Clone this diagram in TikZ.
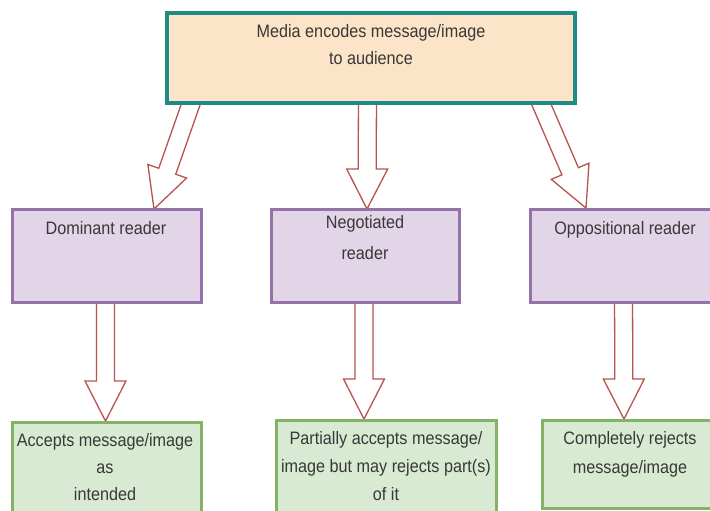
\documentclass[tikz,border=0pt]{standalone}
\usepackage{fontspec}
\setmainfont[FakeStretch=0.9]{Liberation Sans}
\usetikzlibrary{calc}
\definecolor{topfill}{HTML}{FCE4C8}
\definecolor{topline}{HTML}{1F8A86}
\definecolor{purfill}{HTML}{E1D5E7}
\definecolor{purline}{HTML}{9673A6}
\definecolor{grfill}{HTML}{D9EAD3}
\definecolor{grline}{HTML}{82B366}
\definecolor{arrline}{HTML}{B85450}
\definecolor{txtcol}{HTML}{383838}
\pgfdeclarelayer{bg}
\pgfsetlayers{bg,main}
\newcommand\blockarrow[2]{%
  \coordinate (ba-s) at (#1);
  \coordinate (ba-e) at (#2);
  \coordinate (ba-h) at ($(ba-e)!40pt!(ba-s)$);
  \draw[arrstyle] ($(ba-s)!9pt!90:(ba-e)$) -- ($(ba-h)!9pt!-90:(ba-s)$)
    -- ($(ba-h)!20.5pt!-90:(ba-s)$) -- (ba-e) -- ($(ba-h)!20.5pt!90:(ba-s)$)
    -- ($(ba-h)!9pt!90:(ba-s)$) -- ($(ba-s)!9pt!-90:(ba-e)$) -- cycle;}
\tikzset{
  boxbase/.style={rectangle, inner sep=0pt, outer sep=0pt, anchor=north west},
  topbox/.style={boxbase, fill=topfill, draw=topline, line width=3.4pt},
  readerbox/.style={boxbase, fill=purfill, draw=purline, line width=3pt},
  resultbox/.style={boxbase, fill=grfill, draw=grline, line width=3pt},
  arrstyle/.style={draw=arrline, fill=white, line width=1.3pt, line join=miter},
  lbl/.style={inner sep=0pt, anchor=base, align=center, text=txtcol,
    font=\fontsize{18}{28}\selectfont},
}
\begin{document}
\begin{tikzpicture}[x=1pt, y=-1pt]
\useasboundingbox (0,0) rectangle (710,511);
\begin{pgfonlayer}{bg}
\fill[white] (0,0) rectangle (710,511);
\end{pgfonlayer}
% boxes
\node[topbox, minimum width=408pt, minimum height=90pt] (top) at (167,13) {};
\node[readerbox, minimum width=189pt, minimum height=93pt] (dom) at (12,209) {};
\node[readerbox, minimum width=188pt, minimum height=93pt] (neg) at (271,209) {};
\node[readerbox, minimum width=190pt, minimum height=93pt] (opp) at (530,209) {};
\node[resultbox, minimum width=189pt, minimum height=100pt] (acc) at (12,422) {};
\node[resultbox, minimum width=220pt, minimum height=100pt] (par) at (276,420) {};
\node[resultbox, minimum width=180pt, minimum height=88pt] (com) at (542,420) {};
% texts (anchor = baseline of last line)
\node[lbl] (ttop) at (371,65) {Media encodes message/image\\to audience};
\node[lbl] (tdom) at (106,234) {Dominant reader};
\node[lbl] (tneg) at (365,259) {Negotiated\\[3pt]reader};
\node[lbl] (topp) at (625,234) {Oppositional reader};
\node[lbl] (tacc) at (105,500) {Accepts message/image\\[-1pt]as\\[-1pt]intended};
\node[lbl] (tpar) at (386,500) {Partially accepts message/\\image but may rejects part(s)\\of it};
\node[lbl] (tcom) at (630,473) {Completely rejects\\[1pt]message/image};
% arrows
\begin{pgfonlayer}{bg}
\blockarrow{$(top.south west)+(27,-8)$}{$(dom.north west)+(142,0)$}
\blockarrow{$(top.south west)+(200.5,-8)$}{$(neg.north west)+(96,0)$}
\blockarrow{$(top.south west)+(370.3,-8)$}{$(opp.north west)+(56,-1)$}
\blockarrow{$(dom.south west)+(93.5,-7)$}{$(acc.north west)+(93.5,-1)$}
\blockarrow{$(neg.south west)+(93,-7)$}{$(par.north west)+(88,-1)$}
\blockarrow{$(opp.south west)+(93.5,-7)$}{$(com.north west)+(82,-1)$}
\end{pgfonlayer}
\end{tikzpicture}
\end{document}
